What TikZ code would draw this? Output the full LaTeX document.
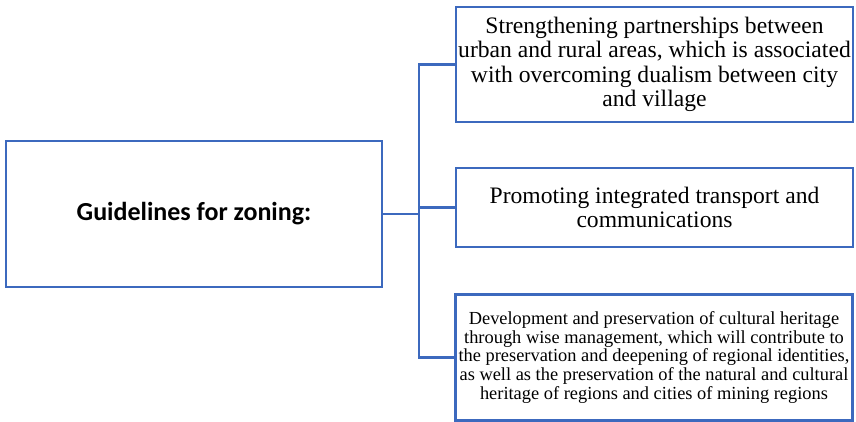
\documentclass[tikz,border=0pt]{standalone}
\usepackage{fontspec}
\setmainfont{Liberation Serif}
\newfontfamily\headfont{Carlito}
\definecolor{boxblue}{RGB}{60,105,190}
\tikzstyle{item} = [rectangle, draw=boxblue, line width=2.2pt, align=center, inner sep=0pt, minimum width=397pt]
\tikzstyle{link} = [draw=boxblue, line width=2.2pt]
\newcommand{\bigtxt}{\rmfamily\fontsize{23.6}{24.5}\selectfont}
\newcommand{\smalltxt}{\rmfamily\fontsize{18.4}{18.8}\selectfont}

\begin{document}
\begin{tikzpicture}[x=1pt,y=-1pt]%
			\useasboundingbox (0,0) rectangle (856,422);
			\node [item, minimum width=376pt, minimum height=146pt, font=\headfont\bfseries\fontsize{26}{30}\selectfont] (guide) at (194,214) {Guidelines for zoning:};
			\node [item, minimum height=115pt, font=\bigtxt] (part) at (654.5,64.5) {Strengthening partnerships between\\urban and rural areas, which is associated\\with overcoming dualism between city\\and village};
			\node [item, minimum height=79pt, font=\bigtxt] (trans) at (654.5,207.5) {Promoting integrated transport and\\communications};
			\node [item, minimum height=126pt, font=\smalltxt] (herit) at (654,357.5) {Development and preservation of cultural heritage\\through wise management, which will contribute to\\the preservation and deepening of regional identities,\\as well as the preservation of the natural and cultural\\heritage of regions and cities of mining regions};
			\coordinate (split) at (419,214);
			\draw [link] (guide.east) -- (split);
			\draw [link] (part.west) -| (split) |- (herit.west);
			\draw [link] (split |- trans.west) -- (trans.west);
		\end{tikzpicture}
\end{document}
